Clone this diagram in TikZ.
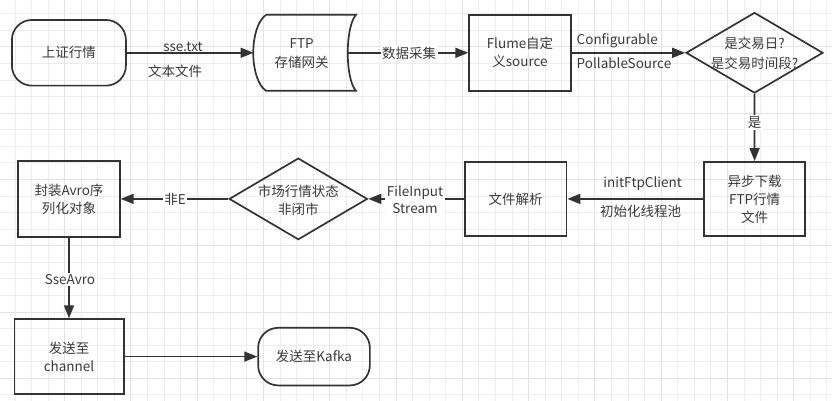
\documentclass[tikz,border=0pt]{standalone}
\usepackage{fontspec}
\setmainfont{Noto Sans CJK SC}
\usetikzlibrary{arrows.meta,shapes.geometric}
\definecolor{ink}{HTML}{333333}
\definecolor{txt}{HTML}{3A3A3A}
\definecolor{gridminor}{HTML}{EDEDED}
\definecolor{gridmajor}{HTML}{E3E3E3}
\begin{document}
\begin{tikzpicture}[x=1pt,y=-1pt,
  every node/.style={font=\fontsize{13.5}{18}\selectfont, text=txt},
  box/.style={draw=ink, line width=1.7pt, rectangle, align=center, inner sep=0pt},
  term/.style={box, rounded corners=20pt},
  dec/.style={draw=ink, line width=1.7pt, diamond, inner sep=0pt},
  conn/.style={draw=ink, line width=1.7pt, -{Triangle[length=13pt,width=10pt]}},
  lbl/.style={fill=white, inner sep=1.5pt, align=center},
  plain/.style={inner sep=0pt, align=center}]
\useasboundingbox (0,0) rectangle (832,401);
\fill[white] (0,0) rectangle (832,401);
% grid
\foreach \k in {0,...,49} \draw[gridminor, line width=1pt] ({15+16.57*\k},0) -- ({15+16.57*\k},401);
\foreach \k in {0,...,23} \draw[gridminor, line width=1pt] (0,{13.85+16.57*\k}) -- (832,{13.85+16.57*\k});
\foreach \k in {3,7,...,47} \draw[gridmajor, line width=1pt] ({15+16.57*\k},0) -- ({15+16.57*\k},401);
\foreach \k in {2,6,...,22} \draw[gridmajor, line width=1pt] (0,{13.85+16.57*\k}) -- (832,{13.85+16.57*\k});

% row 1
\node[term, minimum width=114pt, minimum height=65.7pt] (sz) at (68.9,52.8) {上证行情};
\draw[draw=ink, line width=1.7pt] (266,14.8) -- (356,14.8)
   .. controls (345,27) and (345,79) .. (356,90.8) -- (266,90.8)
   .. controls (249,79) and (249,27) .. (266,14.8);
\node[plain, font=\fontsize{13.5}{19.5}\selectfont] (ftp) at (301.7,53.5) {FTP\\存储网关};
\coordinate (ftpL) at (253.5,52.8);
\coordinate (ftpR) at (348,52.8);
\node[box, minimum width=101.7pt, minimum height=76pt] (flume) at (520,52.8) {Flume自定\\义source};
\node[dec, minimum width=137pt, minimum height=80.6pt] (d1) at (754.5,52.8) {};
\node[plain, font=\fontsize{13.5}{19.5}\selectfont] (d1t) at (754.5,53.2) {是交易日?\\是交易时间段?};

% row 2
\node[box, minimum width=101pt, minimum height=74pt] (dl) at (754.6,198.9) {异步下载\\FTP行情\\文件};
\node[box, minimum width=101.6pt, minimum height=74pt] (parse) at (515.7,198.9) {文件解析};
\node[dec, minimum width=138.3pt, minimum height=81.6pt] (d2) at (298.3,198.9) {};
\node[plain] (d2t) at (298.3,200.5) {市场行情状态\\非闭市};
\node[box, minimum width=101.7pt, minimum height=76pt] (pack) at (69,198.9) {封装Avro序\\列化对象};

% row 3
\node[box, minimum width=109.3pt, minimum height=75pt] (chan) at (69,356.6) {发送至\\channel};
\node[term, minimum width=111.7pt, minimum height=57.6pt] (kafka) at (314,356.6) {发送至Kafka};

% connectors
\draw[conn] (sz.east) -- (ftpL);
\node[plain] (l1) at (183,47) {sse.txt};
\node[plain] (l2) at (175,71.7) {文本文件};
\draw[conn] (ftpR) -- (flume.west);
\node[lbl] (l3) at (409,53) {数据采集};
\draw[conn] (flume.east) -- (d1.west);
\node[plain, anchor=west] (l4) at (576.5,40.5) {Configurable};
\node[plain, anchor=west] (l5) at (576.5,63.5) {PollableSource};
\draw[conn] (d1.south) -- (dl.north);
\node[lbl] (l6) at (754.5,122.7) {是};
\draw[conn] (dl.west) -- (parse.east);
\node[plain] (l7) at (642.7,183.3) {initFtpClient};
\node[plain] (l8) at (640.7,211.7) {初始化线程池};
\draw[conn] (parse.west) -- (d2.east);
\node[lbl, font=\fontsize{13.5}{16.7}\selectfont] (l9) at (415,200) {FileInput\\Stream};
\draw[conn] (d2.west) -- (pack.east);
\node[lbl] (l10) at (175,199.3) {非E};
\draw[conn] (pack.south) -- (chan.north);
\node[lbl] (l11) at (70,279.3) {SseAvro};
\draw[conn] (chan.east) -- (kafka.west);
\end{tikzpicture}
\end{document}
